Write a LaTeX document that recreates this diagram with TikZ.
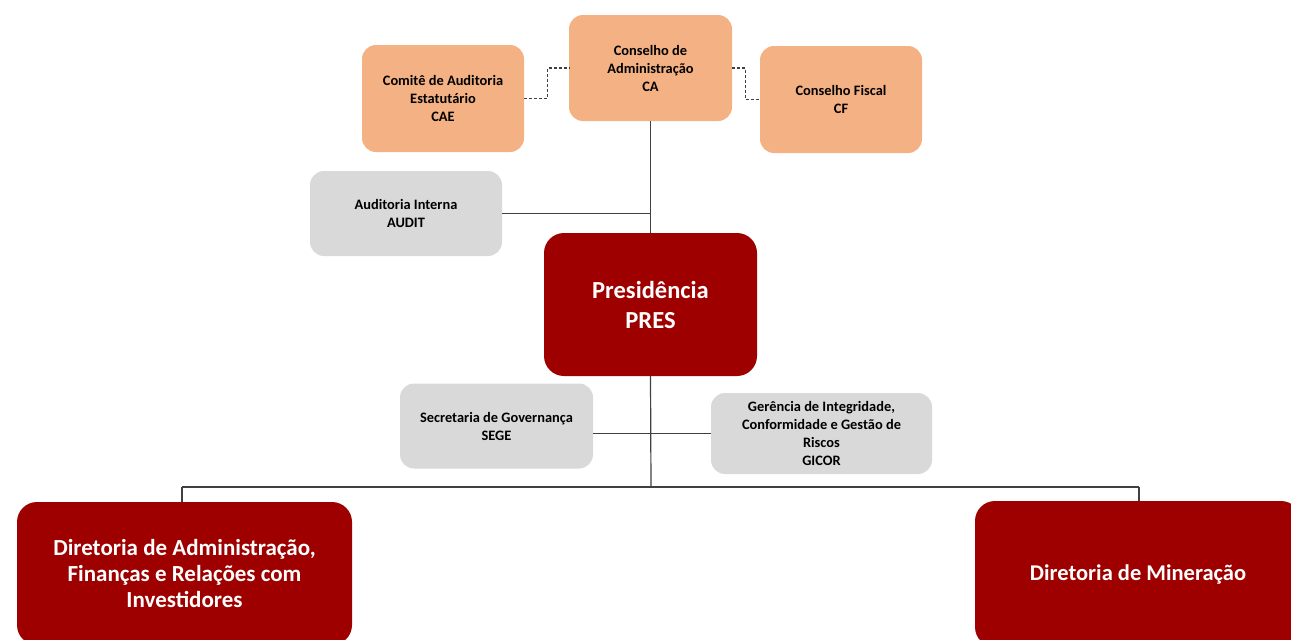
\documentclass[tikz,border=0pt]{standalone}
\usepackage{fontspec}
\setmainfont{Carlito}
\definecolor{orfill}{HTML}{F4B183}
\definecolor{grfill}{HTML}{D9D9D9}
\definecolor{dred}{HTML}{9E0000}
\definecolor{linec}{HTML}{404040}
\begin{document}
\begin{tikzpicture}[x=1pt,y=-1pt,
  smallbox/.style={rounded corners=14pt, inner sep=0pt, align=center,
    font=\bfseries\fontsize{14.4}{18}\selectfont, text=black},
  orbox/.style={smallbox, fill=orfill},
  grbox/.style={smallbox, fill=grfill},
  redbox/.style={rounded corners=20pt, inner sep=0pt, align=center, fill=dred, text=white},
  conn/.style={draw=linec, line width=1.2pt},
  dconn/.style={draw=linec, line width=1.2pt, dash pattern=on 3pt off 2pt}]
\useasboundingbox (0,0) rectangle (1291,640);
\clip (0,0) rectangle (1291,640);
\node[orbox, minimum width=162, minimum height=107] (cae) at (443,98.5) {Comitê de Auditoria\\Estatutário\\CAE};
\node[orbox, minimum width=163, minimum height=106] (ca) at (650.5,68) {Conselho de\\Administração\\CA};
\node[orbox, minimum width=162, minimum height=107] (cf) at (841,99.5) {Conselho Fiscal\\CF};
\node[grbox, minimum width=192, minimum height=85] (audit) at (406,213.5) {Auditoria Interna\\AUDIT};
\node[redbox, minimum width=213, minimum height=143, font=\bfseries\fontsize{24.5}{30}\selectfont] (pres) at (650.5,304.5) {Presidência\\PRES};
\node[grbox, minimum width=193, minimum height=85] (sege) at (496.5,426) {Secretaria de Governança\\SEGE};
\node[grbox, minimum width=221, minimum height=81] (gicor) at (821.5,433.5) {Gerência de Integridade,\\Conformidade e Gestão de\\Riscos\\GICOR};
\node[redbox, minimum width=335, minimum height=143, font=\bfseries\fontsize{23}{26}\selectfont] (daf) at (184.5,573.5) {Diretoria de Administração,\\Finanças e Relações com\\Investidores};
\node[redbox, minimum width=326, minimum height=146, font=\bfseries\fontsize{22.5}{26}\selectfont] (dm) at (1138,574) {Diretoria de Mineração};
\coordinate (j) at (651,487);
\coordinate (jl) at (182,487);
\coordinate (jr) at (1139,487);
\draw[conn] (ca.south) -- (pres.north);
\draw[conn] (pres.south) -- (j);
\draw[conn] (jl) -- (jr);
\draw[conn] (jl) -- (jl |- daf.north);
\draw[conn] (jr) -- (jr |- dm.north);
\draw[conn] (audit.east) -- (audit.east -| ca.south);
\draw[conn] (sege.east |- gicor.west) -- (gicor.west);
\draw[dconn] (cae.east) -- ++(23,0) |- (ca.west);
\draw[dconn] (ca.east) -- ++(13,0) |- (cf.west);
\end{tikzpicture}
\end{document}
